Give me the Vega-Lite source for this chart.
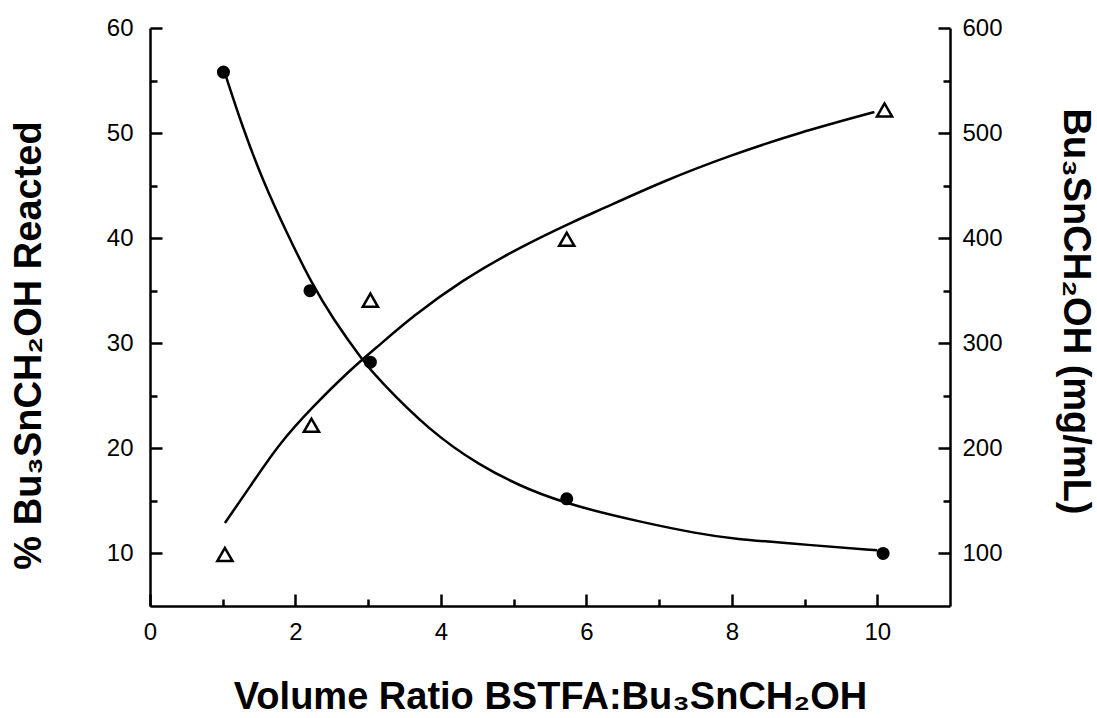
{
  "$schema": "https://vega.github.io/schema/vega-lite/v6.json",
  "autosize": {"type": "none"},
  "padding": {"left": 150, "top": 28, "right": 147, "bottom": 112},
  "width": 800,
  "height": 578,
  "background": "white",
  "config": {
    "view": {"stroke": null},
    "axis": {
      "grid": false,
      "domainColor": "black",
      "domainWidth": 2.5,
      "tickColor": "black",
      "tickWidth": 2.5,
      "labelFont": "Liberation Sans",
      "labelFontSize": 24,
      "labelColor": "black",
      "titleFont": "Liberation Sans",
      "titleFontWeight": "bold",
      "titleFontSize": 38,
      "titleColor": "black",
      "labelOverlap": false,
      "labelFlush": false
    }
  },
  "datasets": {
    "pct_points": [
      {"ratio": 1.01, "pct": 55.8},
      {"ratio": 2.2, "pct": 35.0},
      {"ratio": 3.03, "pct": 28.2},
      {"ratio": 5.73, "pct": 15.2},
      {"ratio": 10.08, "pct": 10.0}
    ],
    "pct_curve": [
      {"ratio": 1.03, "pct": 55.7},
      {"ratio": 1.27, "pct": 50.6},
      {"ratio": 1.55, "pct": 45.5},
      {"ratio": 1.88, "pct": 40.5},
      {"ratio": 2.23, "pct": 35.6},
      {"ratio": 2.51, "pct": 32.4},
      {"ratio": 2.92, "pct": 28.4},
      {"ratio": 3.15, "pct": 26.5},
      {"ratio": 3.84, "pct": 21.7},
      {"ratio": 4.52, "pct": 18.4},
      {"ratio": 5.21, "pct": 16.0},
      {"ratio": 5.89, "pct": 14.4},
      {"ratio": 6.81, "pct": 12.9},
      {"ratio": 7.53, "pct": 11.9},
      {"ratio": 7.99, "pct": 11.4},
      {"ratio": 9.08, "pct": 10.8},
      {"ratio": 10.0, "pct": 10.3}
    ],
    "conc_points": [
      {"ratio": 1.03, "conc": 99},
      {"ratio": 2.22, "conc": 222},
      {"ratio": 3.03, "conc": 341},
      {"ratio": 5.73, "conc": 399},
      {"ratio": 10.1, "conc": 522}
    ],
    "conc_curve": [
      {"ratio": 1.03, "conc": 129},
      {"ratio": 1.37, "conc": 163},
      {"ratio": 1.78, "conc": 205},
      {"ratio": 2.23, "conc": 239},
      {"ratio": 2.74, "conc": 274},
      {"ratio": 3.15, "conc": 298},
      {"ratio": 3.6, "conc": 325},
      {"ratio": 4.29, "conc": 360},
      {"ratio": 5.07, "conc": 391},
      {"ratio": 5.89, "conc": 418},
      {"ratio": 6.16, "conc": 426},
      {"ratio": 7.08, "conc": 455},
      {"ratio": 7.99, "conc": 479},
      {"ratio": 8.9, "conc": 500},
      {"ratio": 9.96, "conc": 520}
    ]
  },
  "encoding": {
    "x": {
      "field": "ratio",
      "type": "quantitative",
      "scale": {"domain": [0, 11], "nice": false, "zero": false},
      "axis": {
        "values": [0, 1, 2, 3, 4, 5, 6, 7, 8, 9, 10],
        "labelExpr": "datum.value % 2 === 0 ? datum.label : ''",
        "tickSize": {"condition": {"test": "datum.value % 2 === 1", "value": -7}, "value": -12},
        "labelPadding": 26,
        "labelFontSize": 24,
        "title": "Volume Ratio BSTFA:Bu₃SnCH₂OH",
        "titleY": 102,
        "titleBaseline": "alphabetic"
      }
    }
  },
  "layer": [
    {
      "encoding": {
        "y": {
          "field": "pct",
          "type": "quantitative",
          "scale": {"domain": [5, 60], "nice": false, "zero": false},
          "axis": {
            "orient": "left",
            "values": [10, 15, 20, 25, 30, 35, 40, 45, 50, 55, 60],
            "labelExpr": "datum.value % 10 === 0 ? datum.label : ''",
            "tickSize": {"condition": {"test": "datum.value % 10 !== 0", "value": -7}, "value": -12},
            "labelPadding": 29,
            "labelFontSize": 24,
            "title": "% Bu₃SnCH₂OH Reacted",
            "titleX": -110,
            "titleY": 317,
            "titleBaseline": "alphabetic"
          }
        }
      },
      "layer": [
        {
          "data": {"name": "pct_curve"},
          "mark": {"type": "line", "interpolate": "basis", "color": "black", "strokeWidth": 2.5}
        },
        {
          "data": {"name": "pct_points"},
          "mark": {"type": "point", "shape": "circle", "filled": true, "color": "black", "size": 170, "opacity": 1}
        }
      ]
    },
    {
      "encoding": {
        "y": {
          "field": "conc",
          "type": "quantitative",
          "scale": {"domain": [50, 600], "nice": false, "zero": false},
          "axis": {
            "orient": "right",
            "values": [100, 150, 200, 250, 300, 350, 400, 450, 500, 550, 600],
            "labelExpr": "datum.value % 100 === 0 ? datum.label : ''",
            "tickSize": {"condition": {"test": "datum.value % 100 !== 0", "value": -7}, "value": -12},
            "labelPadding": 24,
            "labelFontSize": 24,
            "title": "Bu₃SnCH₂OH (mg/mL)",
            "titleX": 113,
            "titleY": 283,
            "titleBaseline": "alphabetic"
          }
        }
      },
      "layer": [
        {
          "data": {"name": "conc_curve"},
          "mark": {"type": "line", "interpolate": "basis", "color": "black", "strokeWidth": 2.5}
        },
        {
          "data": {"name": "conc_points"},
          "mark": {"type": "point", "shape": "triangle-up", "filled": false, "color": "black", "strokeWidth": 2.5, "size": 230, "opacity": 1}
        }
      ]
    }
  ],
  "resolve": {"scale": {"y": "independent"}}
}
